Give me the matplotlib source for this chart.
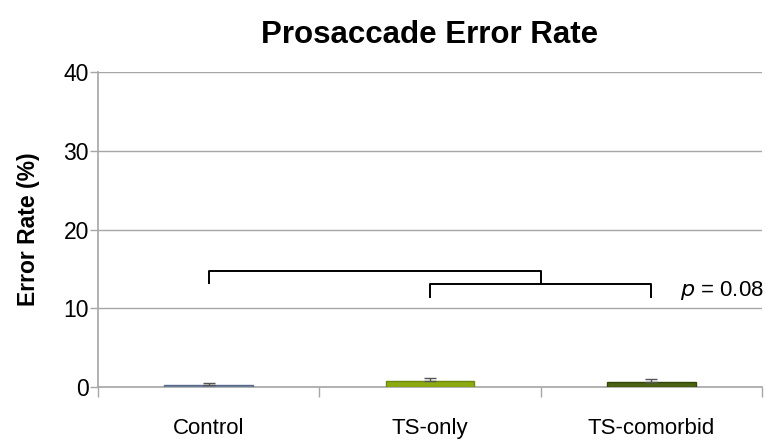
import matplotlib
matplotlib.use("Agg")
import matplotlib.pyplot as plt
import numpy as np

plt.rcParams['font.family'] = ['Liberation Sans', 'DejaVu Sans']

categories = ["Control", "TS-only", "TS-comorbid"]
values = [0.25, 0.78, 0.67]
errors = [0.25, 0.32, 0.30]
colors = ["#7a88a8", "#8eaa12", "#4b6212"]
edgecolors = ["#5a6a8a", "#6e8a0a", "#334808"]
yticks = [0, 10, 20, 30, 40]

fig = plt.figure(figsize=(7.65, 4.4), dpi=100)
ax = fig.add_axes([0.128, 0.1205, 0.868, 0.7155])

x = np.arange(len(categories))
ax.bar(x, values, width=0.4, color=colors, edgecolor=edgecolors, linewidth=1, zorder=3)
ax.errorbar(x, values, yerr=[np.zeros(3), errors], fmt='none', ecolor='#555555',
            elinewidth=1, capsize=4, capthick=1, zorder=4)

ax.set_xlim(-0.5, 2.5)
ax.set_ylim(0, 40)
ax.set_yticks(yticks)
ax.set_yticklabels([str(t) for t in yticks], fontsize=16.5)
ax.yaxis.grid(True, color='#a6a6a6', linewidth=1)
ax.set_axisbelow(True)

ax.set_xticks([-0.5, 0.5, 1.5, 2.5])
ax.set_xticklabels([])
ax.set_xticks(x, minor=True)
ax.set_xticklabels(categories, minor=True, fontsize=16)
ax.tick_params(axis='x', which='minor', length=0, pad=22)
ax.tick_params(axis='x', which='major', length=7, color='#a6a6a6', width=1)
ax.tick_params(axis='y', length=6, color='#a6a6a6', width=1, pad=0.5)

for s in ['top', 'right']:
    ax.spines[s].set_visible(False)
for s in ['left', 'bottom']:
    ax.spines[s].set_color('#a6a6a6')
    ax.spines[s].set_linewidth(1.2)

ax.set_ylabel("Error Rate (%)", fontsize=16.5, fontweight='bold', labelpad=17)
ax.set_title("Prosaccade Error Rate", fontsize=22.5, fontweight='bold', pad=21)

# significance brackets
ax.plot([0, 0, 1.5, 1.5], [13.2, 14.7, 14.7, 13.1], color='black', lw=1.4, zorder=5)
ax.plot([1, 1, 2, 2], [11.4, 13.1, 13.1, 11.4], color='black', lw=1.4, zorder=5)
ax.text(2.13, 12.2, r"$\it{p}$ = 0.08", fontsize=16, va='center', ha='left')

fig.savefig("out.png", dpi=100)
